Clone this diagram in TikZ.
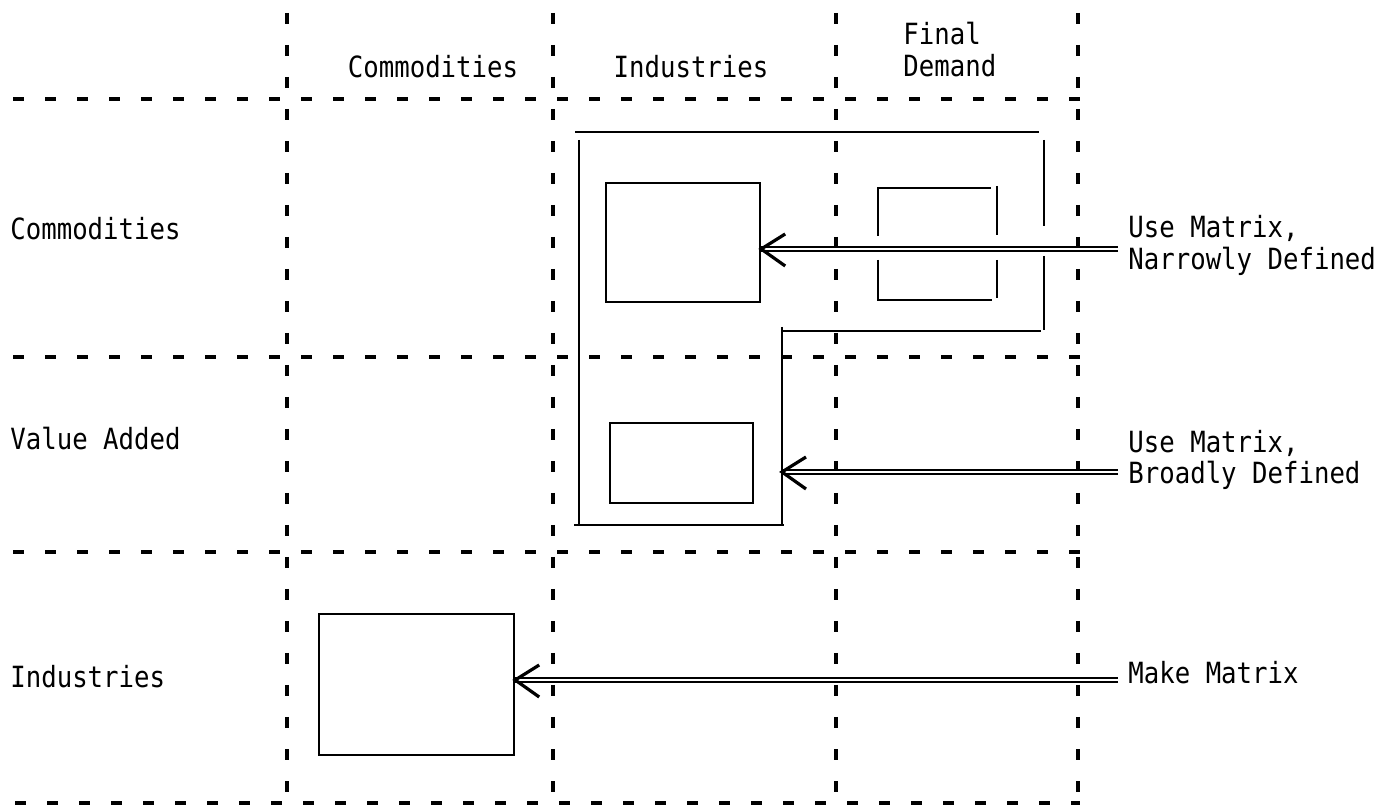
\documentclass[tikz,border=0pt]{standalone}
\usepackage{fontspec}
\newfontfamily\tw[FakeStretch=0.88]{DejaVu Sans Mono}
\begin{document}
\begin{tikzpicture}[x=0.5pt,y=-0.5pt,
  grid/.style={line width=1.6pt, dash pattern=on 5.5pt off 10.5pt},
  sl/.style={line width=1.1pt},
  box/.style={draw, line width=1.1pt, inner sep=0pt, anchor=north west},
  dbl/.style={double, line width=0.75pt, double distance=1.2pt},
  tipst/.style={line width=1.6pt, line join=miter},
  lbl/.style={font=\tw\fontsize{14.6}{18}\selectfont, inner sep=0pt}]
\useasboundingbox (0,0) rectangle (1387,806);

% boxes
\node[box, minimum width=77pt, minimum height=59.5pt] (A) at (605,182) {};
\node[box, minimum width=71.5pt, minimum height=40pt] (C) at (609,422) {};
\node[box, minimum width=97.5pt, minimum height=70.5pt] (D) at (318,613) {};

% final demand box (broken by arrow)
\draw[sl] (878,236) -- (878,188) -- (991,188);
\draw[sl] (878,260) -- (878,300);
\draw[sl] (877,300) -- (992,300);
\draw[sl] (997,186) -- (997,235);
\draw[sl] (997,260) -- (997,298);

% outer L-shaped frame
\draw[sl] (575,132) -- (1039,132);
\draw[sl] (579,140) -- (579,525);
\draw[sl] (574,525) -- (784,525);
\draw[sl] (782,327) -- (782,525);
\draw[sl] (781,331) -- (1041,331);
\draw[sl] (1044,140) -- (1044,226);
\draw[sl] (1044,256) -- (1044,330);

% grid
\draw[grid] (13,99) -- (1080,99);
\draw[grid] (13,357) -- (1080,357);
\draw[grid] (13,552) -- (1080,552);
\draw[grid] (15,803) -- (1080,803);
\draw[grid] (287,13) -- (287,803);
\draw[grid] (553,13) -- (553,803);
\draw[grid] (836,13) -- (836,803);
\draw[grid] (1078,13) -- (1078,803);

% labels
\node[lbl, anchor=base] (hc) at (433,78) {Commodities};
\node[lbl, anchor=base] (hi) at (691,78) {Industries};
\node[lbl, anchor=base west] (hf1) at (903,45) {Final};
\node[lbl, anchor=base west] (hf2) at (903,77) {Demand};
\node[lbl, anchor=base west] (rc) at (10,240) {Commodities};
\node[lbl, anchor=base west] (rv) at (10,450) {Value Added};
\node[lbl, anchor=base west] (ri) at (10,688) {Industries};
\node[lbl, anchor=base west] (u1) at (1128,238) {Use Matrix,};
\node[lbl, anchor=base west] (n1) at (1128,270) {Narrowly Defined};
\node[lbl, anchor=base west] (u2) at (1128,453) {Use Matrix,};
\node[lbl, anchor=base west] (b2) at (1128,484) {Broadly Defined};
\node[lbl, anchor=base west] (mm) at (1128,683) {Make Matrix};

% arrows
\coordinate (s1) at (1118,249);
\coordinate (e1) at (s1 -| A.east);
\coordinate (s2) at (1118,472);
\coordinate (e2) at (782,472);
\coordinate (s3) at (1118,680);
\coordinate (e3) at (s3 -| D.east);
\draw[dbl] (s1) -- (e1);
\draw[dbl] (s2) -- (e2);
\draw[dbl] (s3) -- (e3);
\foreach \e in {e1,e2,e3}
  \draw[tipst] ([shift={(24,-15)}]\e) -- (\e) -- ([shift={(24,17)}]\e);
\end{tikzpicture}
\end{document}
